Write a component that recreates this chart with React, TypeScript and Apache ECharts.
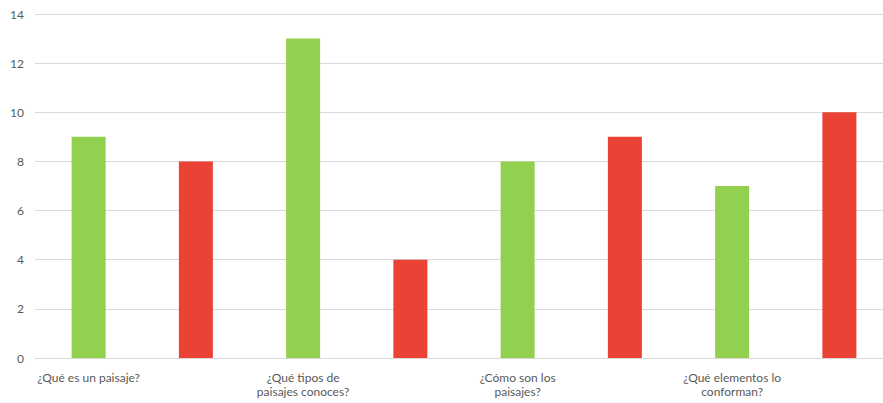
import React, { useEffect, useRef } from "react";
import * as echarts from "echarts";

// Questions and answer counts per question (first bar green, second bar red)
const questions = [
  "¿Qué es un paisaje?",
  "¿Qué tipos de\npaisajes conoces?",
  "¿Cómo son los\npaisajes?",
  "¿Qué elementos lo\nconforman?",
];
const greenValues = [9, 13, 8, 7];
const redValues = [8, 4, 9, 10];
const yTicks = { min: 0, max: 14, interval: 2 };

const GREEN = "#92D050";
const RED = "#EA4335";

// Each question occupies two evenly spaced slots: green then red
const slots: string[] = [];
const greenData: (number | string)[] = [];
const redData: (number | string)[] = [];
questions.forEach((q, i) => {
  slots.push(q, q + " ");
  greenData.push(greenValues[i], "-");
  redData.push("-", redValues[i]);
});

export default function App() {
  const ref = useRef<HTMLDivElement>(null);
  useEffect(() => {
    if (!ref.current) return;
    const chart = echarts.init(ref.current, null, { renderer: "svg" });
    chart.setOption({
      animation: false,
      grid: { left: 35, right: 0, top: 14, bottom: 45, containLabel: false },
      xAxis: {
        type: "category",
        data: slots,
        axisLine: { lineStyle: { color: "#D9D9D9", width: 1 } },
        axisTick: { show: false },
        axisLabel: {
          interval: 0,
          color: "#595959",
          fontSize: 12,
          fontFamily: "Lato",
          lineHeight: 14,
          margin: 12,
          formatter: (_v: string, i: number) => (i % 2 === 0 ? questions[i / 2] : ""),
        },
      },
      yAxis: {
        type: "value",
        min: yTicks.min,
        max: yTicks.max,
        interval: yTicks.interval,
        axisLine: { show: false },
        axisTick: { show: false },
        splitLine: { lineStyle: { color: "#D9D9D9", width: 1 } },
        axisLabel: {
          color: "#595959",
          fontSize: 12,
          fontFamily: "Lato",
          margin: 11,
        },
      },
      series: [
        {
          type: "bar",
          data: greenData,
          barWidth: 34,
          barGap: "-100%",
          itemStyle: { color: GREEN },
        },
        {
          type: "bar",
          data: redData,
          barWidth: 34,
          barGap: "-100%",
          itemStyle: { color: RED },
        },
      ],
    });
    return () => chart.dispose();
  }, []);
  // The plot runs slightly past the right edge of the visible frame
  return (
    <div style={{ width: 883, height: 403, position: "absolute", left: 0, top: 0, overflow: "hidden" }}>
      <div ref={ref} style={{ width: 893, height: 403 }} />
    </div>
  );
}
